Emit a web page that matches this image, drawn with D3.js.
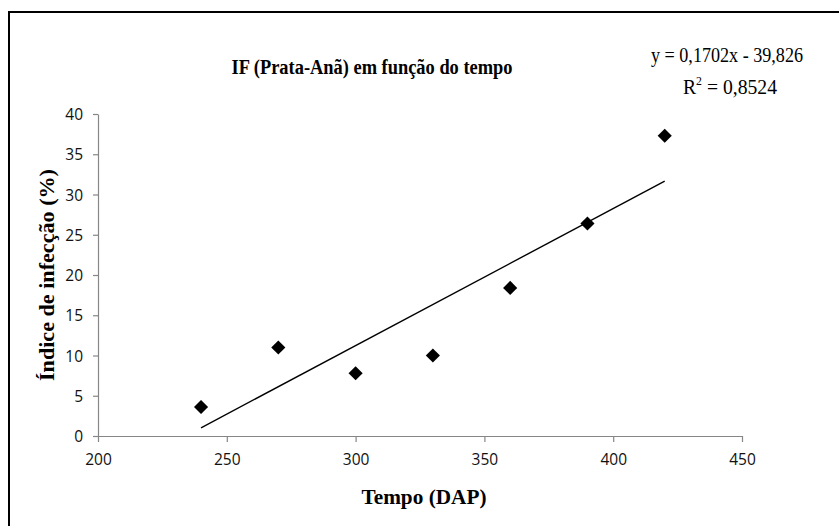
<!DOCTYPE html>
<html>
<head>
<meta charset="utf-8">
<script src="https://cdn.jsdelivr.net/npm/d3@7"></script>
<style>
html,body{margin:0;padding:0;background:#fff;}
svg{display:block;}
</style>
</head>
<body>
<svg id="chart" width="839" height="526"></svg>
<script>
// ---- data ----
const tempo = [240, 270, 300, 330, 360, 390, 420];
const indice = [3.6, 11.0, 7.8, 10.0, 18.4, 26.4, 37.3];
const xTicks = [200, 250, 300, 350, 400, 450];
const yTicks = [0, 5, 10, 15, 20, 25, 30, 35, 40];
const slope = 0.1702;
const intercept = -39.826;
const titleText = "IF (Prata-Anã) em função do tempo";
const eqText = "y = 0,1702x - 39,826";
const r2Value = "0,8524";
const xTitle = "Tempo (DAP)";
const yTitle = "Índice de infecção (%)";

const svg = d3.select("#chart");

// outer frame (only left/top visible)
svg.append("rect").attr("x", 9).attr("y", 12).attr("width", 840).attr("height", 540)
  .attr("fill", "none").attr("stroke", "#000").attr("stroke-width", 2);

const x = d3.scaleLinear().domain([200, 450]).range([98, 742]);
const y = d3.scaleLinear().domain([0, 40]).range([436, 114]);

const tickFont = "'Open Sans', 'Liberation Sans', sans-serif";
const axisColor = "#868686";

const gx = svg.append("g").attr("transform", `translate(0,${y(0)})`)
  .call(d3.axisBottom(x).tickValues(xTicks).tickSize(6).tickSizeOuter(0).tickPadding(12));
const gy = svg.append("g").attr("transform", `translate(${x(200)},0)`)
  .call(d3.axisLeft(y).tickValues(yTicks).tickSize(5).tickSizeOuter(0).tickPadding(10));

[gx, gy].forEach(g => {
  g.select(".domain").attr("stroke", axisColor).attr("stroke-width", 1.2);
  g.selectAll(".tick line").attr("stroke", axisColor).attr("stroke-width", 1.2);
  g.selectAll(".tick text").attr("fill", "#111").attr("font-family", tickFont).attr("font-size", 15.5);
});
gy.selectAll(".tick text").attr("dy", "0.36em");

// trendline
const tl = d3.line().x(d => x(d)).y(d => y(slope * d + intercept));
svg.append("path").datum([d3.min(tempo), d3.max(tempo)])
  .attr("d", tl).attr("fill", "none").attr("stroke", "#000").attr("stroke-width", 1.4);

// points
const diamond = d3.symbol().type(d3.symbolSquare).size(100);
svg.append("g").selectAll("path").data(tempo.map((t, i) => [t, indice[i]])).join("path")
  .attr("d", diamond)
  .attr("transform", d => `translate(${x(d[0])},${y(d[1])}) rotate(45)`)
  .attr("fill", "#000");

const serif = "'Liberation Serif', 'Times New Roman', serif";
// title
svg.append("text").attr("x", 372).attr("y", 74).attr("text-anchor", "middle")
  .attr("font-family", serif).attr("font-weight", "bold").attr("font-size", 20)
  .attr("textLength", 281).attr("lengthAdjust", "spacingAndGlyphs")
  .text(titleText);

// equation
svg.append("text").attr("x", 727).attr("y", 62).attr("text-anchor", "middle")
  .attr("font-family", serif).attr("font-size", 20)
  .attr("textLength", 152).attr("lengthAdjust", "spacingAndGlyphs")
  .text(eqText);
const r2 = svg.append("text").attr("x", 730).attr("y", 94).attr("text-anchor", "middle")
  .attr("font-family", serif).attr("font-size", 20)
  .attr("textLength", 94).attr("lengthAdjust", "spacingAndGlyphs");
r2.append("tspan").text("R");
r2.append("tspan").attr("dy", -9).attr("font-size", 12).text("2");
r2.append("tspan").attr("dy", 9).text(" = " + r2Value);

// axis titles
svg.append("text").attr("x", 424).attr("y", 504).attr("text-anchor", "middle")
  .attr("font-family", serif).attr("font-weight", "bold").attr("font-size", 20)
  .attr("textLength", 125).attr("lengthAdjust", "spacingAndGlyphs")
  .text(xTitle);
svg.append("text").attr("transform", `translate(54,${(y(0)+y(40))/2}) rotate(-90)`)
  .attr("text-anchor", "middle")
  .attr("font-family", serif).attr("font-weight", "bold").attr("font-size", 20)
  .attr("textLength", 212).attr("lengthAdjust", "spacingAndGlyphs")
  .text(yTitle);
</script>
</body>
</html>
